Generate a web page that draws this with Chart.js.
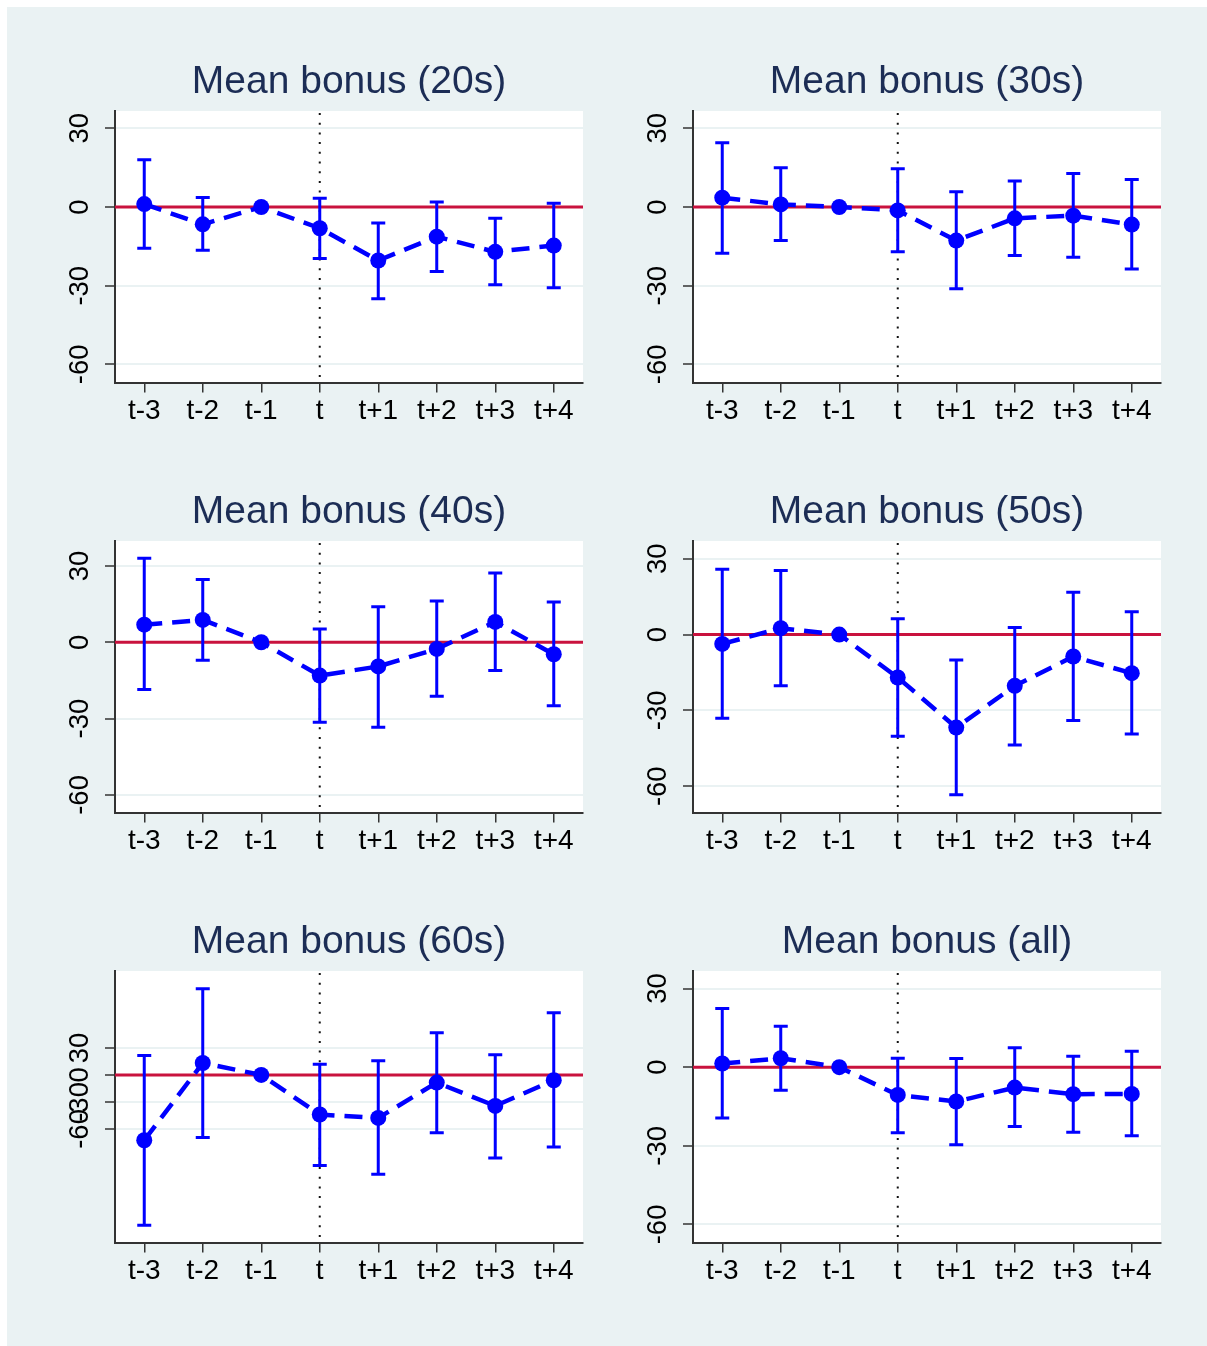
<!DOCTYPE html>
<html>
<head>
<meta charset="utf-8">
<script src="https://cdn.jsdelivr.net/npm/chart.js@4.4.1/dist/chart.umd.min.js"></script>
<style>
html,body{margin:0;padding:0;background:#ffffff;}
#bg{position:absolute;left:7px;top:7px;width:1200px;height:1339px;background:#EAF2F3;}
canvas{position:absolute;}
</style>
</head>
<body>
<div id="bg"></div>
<canvas id="c0" width="578" height="430" style="left:10px;top:20px"></canvas>
<canvas id="c1" width="578" height="430" style="left:588px;top:20px"></canvas>
<canvas id="c2" width="578" height="430" style="left:10px;top:450px"></canvas>
<canvas id="c3" width="578" height="430" style="left:588px;top:450px"></canvas>
<canvas id="c4" width="578" height="430" style="left:10px;top:880px"></canvas>
<canvas id="c5" width="578" height="430" style="left:588px;top:880px"></canvas>
<script>
// ---- data ----
const periods = ['t-3','t-2','t-1','t','t+1','t+2','t+3','t+4'];
const titles = ['Mean bonus (20s)','Mean bonus (30s)','Mean bonus (40s)','Mean bonus (50s)','Mean bonus (60s)','Mean bonus (all)'];
const yTicks = [30, 0, -30, -60];

const est20 = [1.1, -6.6, 0, -8.1, -20.4, -11.3, -17.1, -14.7];
const lo20  = [-15.7, -16.5, null, -19.6, -35.0, -24.6, -29.6, -30.8];
const hi20  = [18.0, 3.6, null, 3.3, -6.1, 1.9, -4.3, 1.4];

const est30 = [3.55, 1.0, 0, -1.3, -12.8, -4.3, -3.3, -6.7];
const lo30  = [-17.6, -12.8, null, -17.1, -31.2, -18.5, -19.2, -23.6];
const hi30  = [24.5, 15.0, null, 14.6, 5.8, 9.9, 12.8, 10.5];

const est40 = [6.9, 8.8, 0, -13.1, -9.5, -2.6, 8.0, -4.7];
const lo40  = [-18.6, -7.1, null, -31.4, -33.4, -21.2, -11.1, -24.9];
const hi40  = [33.0, 24.7, null, 5.2, 14.0, 16.2, 27.2, 15.8];

const est50 = [-3.7, 2.5, 0, -17.0, -36.8, -20.3, -8.7, -15.3];
const lo50  = [-33.1, -20.3, null, -40.2, -63.4, -43.7, -34.0, -39.3];
const hi50  = [25.8, 25.3, null, 6.2, -10.1, 2.8, 16.7, 9.0];

const est60 = [-72.6, 13.3, 0, -44.0, -47.8, -8.5, -34.4, -5.9];
const lo60  = [-167.0, -69.6, null, -100.7, -110.4, -64.4, -92.2, -80.0];
const hi60  = [21.5, 95.9, null, 11.8, 15.9, 47.0, 22.6, 69.3];

const estAll = [1.4, 3.4, 0, -10.6, -13.1, -7.8, -10.3, -10.2];
const loAll  = [-19.4, -8.8, null, -25.0, -29.6, -22.6, -24.8, -26.2];
const hiAll  = [22.4, 15.6, null, 3.4, 3.3, 7.4, 4.2, 6.1];

const yMins = [-66.9, -66.9, -66.9, -70.4, -186.3, -66.9];
const yMaxs = [36.6, 36.6, 39.8, 37.0, 115.6, 36.7];

const eventIndex = 3; // category "t"

const panels = [
  [est20, lo20, hi20],
  [est30, lo30, hi30],
  [est40, lo40, hi40],
  [est50, lo50, hi50],
  [est60, lo60, hi60],
  [estAll, loAll, hiAll]
];

// ---- styles ----
const FONT = '"Liberation Sans", Arial, Helvetica, sans-serif';
const BLUE = '#0000FF';
const AXIS = '#333333';

const plotBg = {
  id: 'plotBg',
  beforeDraw(chart) {
    const {ctx, chartArea: a} = chart;
    ctx.save();
    ctx.fillStyle = '#ffffff';
    ctx.fillRect(a.left, a.top, a.right - a.left, a.bottom - a.top);
    ctx.restore();
  }
};

function makeOverlay(lo, hi) {
  return {
    id: 'overlay',
    beforeDatasetsDraw(chart) {
      const {ctx, chartArea: a} = chart;
      const x = chart.scales.x, y = chart.scales.y;
      ctx.save();
      // zero reference line
      const y0 = y.getPixelForValue(0);
      ctx.strokeStyle = '#C9123E';
      ctx.lineWidth = 3;
      ctx.beginPath(); ctx.moveTo(a.left, y0); ctx.lineTo(a.right, y0); ctx.stroke();
      // dotted event line
      const xt = x.getPixelForValue(eventIndex);
      ctx.strokeStyle = '#111111';
      ctx.lineWidth = 2;
      ctx.setLineDash([2, 7.7]);
      ctx.beginPath(); ctx.moveTo(xt, a.top + 2); ctx.lineTo(xt, a.bottom); ctx.stroke();
      ctx.setLineDash([]);
      // error bars
      ctx.strokeStyle = BLUE;
      ctx.lineWidth = 3;
      const cap = 7;
      for (let i = 0; i < lo.length; i++) {
        if (lo[i] == null || hi[i] == null) continue;
        const px = x.getPixelForValue(i);
        const pl = y.getPixelForValue(lo[i]);
        const ph = y.getPixelForValue(hi[i]);
        ctx.beginPath();
        ctx.moveTo(px, pl); ctx.lineTo(px, ph);
        ctx.moveTo(px - cap, pl); ctx.lineTo(px + cap, pl);
        ctx.moveTo(px - cap, ph); ctx.lineTo(px + cap, ph);
        ctx.stroke();
      }
      ctx.restore();
    }
  };
}

panels.forEach((p, k) => {
  const [est, lo, hi] = p;
  new Chart(document.getElementById('c' + k), {
    type: 'line',
    data: {
      labels: periods,
      datasets: [{
        data: est,
        borderColor: BLUE,
        borderWidth: 4.5,
        borderDash: [18, 10],
        tension: 0,
        fill: false,
        pointRadius: 8,
        pointBackgroundColor: BLUE,
        pointBorderWidth: 0,
        pointHoverRadius: 8
      }]
    },
    options: {
      responsive: false,
      animation: false,
      events: [],
      layout: {autoPadding: false, padding: {left: 0, right: 5, top: 0, bottom: 0}},
      plugins: {
        legend: {display: false},
        tooltip: {enabled: false},
        title: {
          display: true,
          text: titles[k],
          fullSize: false,
          color: '#1C2D55',
          font: {family: FONT, size: 39, weight: 'normal'},
          padding: {top: 38.6, bottom: 5.6}
        }
      },
      scales: {
        x: {
          type: 'category',
          offset: true,
          afterFit: s => { s.height = 67.5; s.paddingLeft = 0; s.paddingRight = 0; },
          ticks: {
            color: '#000000', padding: 2, autoSkip: false, maxRotation: 0, minRotation: 0,
            font: {family: FONT, size: 28}
          },
          grid: {offset: false, drawOnChartArea: false, color: AXIS, tickColor: AXIS, tickLength: 10, lineWidth: 1.5},
          border: {display: true, color: AXIS, width: 2}
        },
        y: {
          min: yMins[k],
          max: yMaxs[k],
          afterBuildTicks: s => { s.ticks = yTicks.map(v => ({value: v})); },
          afterFit: s => { s.width = 105; s.paddingTop = 0; s.paddingBottom = 0; },
          ticks: {
            autoSkip: false, minRotation: 90, maxRotation: 90, crossAlign: 'center', padding: 4.5,
            color: '#000000', font: {family: FONT, size: 27.5},
            callback: v => String(v)
          },
          grid: {color: '#EAF2F3', lineWidth: 2, tickColor: AXIS, tickWidth: 1.5, tickLength: 10},
          border: {display: true, color: AXIS, width: 2}
        }
      }
    },
    plugins: [plotBg, makeOverlay(lo, hi)]
  });
});
</script>
</body>
</html>
